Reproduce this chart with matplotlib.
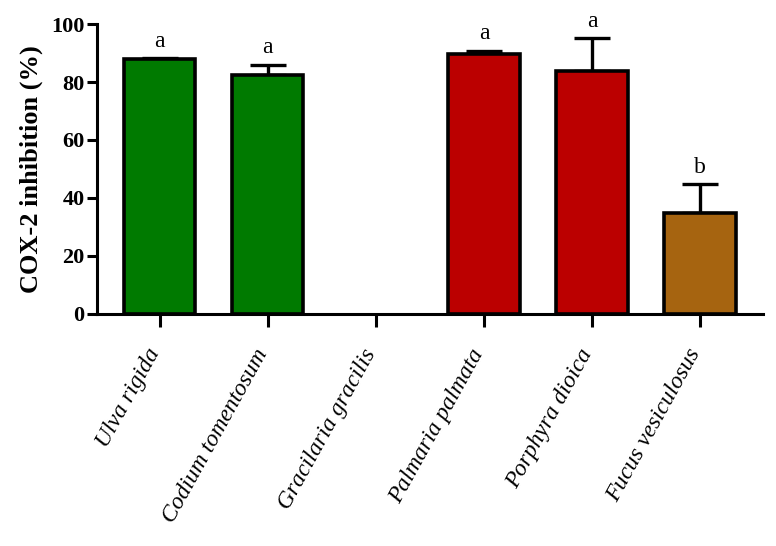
import matplotlib
matplotlib.use("Agg")
import matplotlib.pyplot as plt
import numpy as np

# Data
species = ["Ulva rigida", "Codium tomentosum", "Gracilaria gracilis",
           "Palmaria palmata", "Porphyra dioica", "Fucus vesiculosus"]
inhibition = [88.0, 82.5, 0.0, 89.8, 83.7, 34.8]
sd = [0.3, 3.5, 0.0, 1.0, 11.5, 10.0]
letters = ["a", "a", "", "a", "a", "b"]
colors = ["#007a00", "#007a00", "#007a00", "#bb0000", "#bb0000", "#a66410"]

plt.rcParams["font.family"] = ["Liberation Serif", "DejaVu Serif"]

fig = plt.figure(figsize=(7.76, 5.46), dpi=100)
ax = fig.add_axes([0.125, 0.425, 0.858, 0.531])

x = np.arange(len(species))
for i in x:
    if inhibition[i] <= 0:
        continue
    ax.bar(i, inhibition[i], width=0.66, color=colors[i],
           edgecolor="black", linewidth=2.6, zorder=3)
    ax.errorbar(i, inhibition[i], yerr=[[0], [sd[i]]], fmt="none",
                ecolor="black", elinewidth=2.4, capsize=13, capthick=2.4,
                zorder=2)
    ax.text(i, inhibition[i] + sd[i] + 2.2, letters[i], ha="center",
            va="bottom", fontsize=17)

ax.set_xlim(-0.58, 5.58)
ax.set_ylim(0, 100)
ax.set_yticks([0, 20, 40, 60, 80, 100])
ax.set_xticks(x)
ax.set_xticklabels(species, rotation=61, ha="right", va="baseline",
                   rotation_mode="anchor", fontsize=17, style="italic")
for lab in ax.get_yticklabels():
    lab.set_fontweight("bold")
    lab.set_fontsize(16)

ax.set_ylabel("COX-2 inhibition (%)", fontsize=19, fontweight="bold",
              labelpad=6)

for side in ["top", "right"]:
    ax.spines[side].set_visible(False)
for side in ["left", "bottom"]:
    ax.spines[side].set_linewidth(2.2)

ax.tick_params(axis="y", length=7, width=2.2, pad=2)
ax.tick_params(axis="x", length=9, width=2.2, pad=19)

fig.savefig("out.png", dpi=100)
